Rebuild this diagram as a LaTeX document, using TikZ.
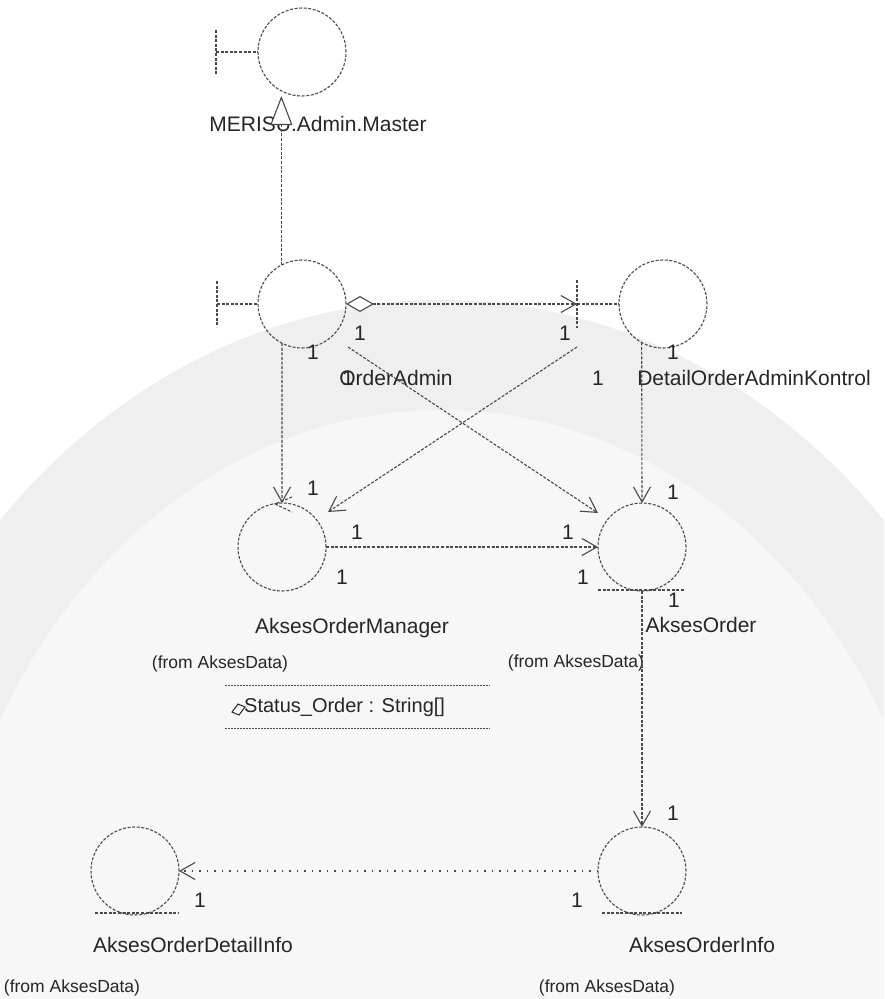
\documentclass[tikz,border=0pt]{standalone}
\usepackage{fontspec}
\setmainfont{Liberation Sans}
\usetikzlibrary{arrows.meta,calc}

\definecolor{ink}{HTML}{4A4A4A}
\definecolor{txt}{HTML}{262626}
\definecolor{wm}{HTML}{EFEFEF}
\definecolor{wmlight}{HTML}{F7F7F7}

\tikzset{
  icon/.style={circle, draw=ink, line width=1.1pt, dash pattern=on 3pt off 1.6pt,
    minimum size=88pt, inner sep=0pt, outer sep=0pt},
  link/.style={draw=ink, line width=1.1pt, dash pattern=on 3pt off 1.6pt},
  sparse/.style={draw=ink, line width=1.1pt, dash pattern=on 1.5pt off 6pt},
  barb/.tip={Straight Barb[length=15pt,width=17pt,line width=1.1pt]},
  nav/.style={link, -barb},
  deco/.style={draw=ink, line width=1.1pt, dash pattern=on 3pt off 1.6pt},
  lbl/.style={font=\fontsize{21}{24}\selectfont, text=txt, inner sep=0pt},
  pkg/.style={font=\fontsize{17.5}{20}\selectfont, text=txt, inner sep=0pt},
}

\begin{document}
\begin{tikzpicture}[x=1pt,y=-1pt]
\useasboundingbox (0,0) rectangle (884,999);

% faint background arch band
\begin{scope}
  \clip (0,0) rectangle (884,999);
  \fill[wmlight] (442,1000) ellipse [x radius=502, y radius=590];
  \fill[wm, even odd rule] (442,1000) ellipse [x radius=607, y radius=700]
                           (442,1000) ellipse [x radius=502, y radius=590];
\end{scope}

% class icons
\node[icon] (meris) at (302,52) {};
\node[icon] (oa)    at (302,304) {};
\node[icon] (doak)  at (663,304) {};
\node[icon] (aom)   at (282,547) {};
\node[icon] (ao)    at (642,547) {};
\node[icon] (aoi)   at (642,871) {};
\node[icon] (aodi)  at (135,871) {};

% boundary bars
\coordinate (merisbar) at (216,52);
\coordinate (oabar)    at (217,304);
\coordinate (doakbar)  at (577,304);
\draw[deco] (merisbar) -- (meris.west);
\draw[deco] ($(merisbar)+(0,-22)$) -- ($(merisbar)+(0,22)$);
\draw[deco] (oabar) -- (oa.west);
\draw[deco] ($(oabar)+(0,-23)$) -- ($(oabar)+(0,23)$);
\draw[deco] (doakbar) -- (doak.west);
\draw[deco] ($(doakbar)+(0,-24)$) -- ($(doakbar)+(0,24)$);

% control arrow on AksesOrderManager
\draw[deco] ($(aom.north)+(10,-6)$) -- ($(aom.north)+(-7,1)$) -- ($(aom.north)+(10,9)$);

% entity underlines
\draw[deco] ($(ao.south)+(-44,-1)$) -- ($(ao.south)+(43,-1)$);
\draw[deco] ($(aoi.south)+(-40,-2)$) -- ($(aoi.south)+(40,-2)$);
\draw[deco] ($(aodi.south)+(-40,-2)$) -- ($(aodi.south)+(44,-2)$);

% names
\node[lbl] (tmeris) at (318,124) {MERISU.Admin.Master};
\node[lbl] (toa)    at (396,378) {OrderAdmin};
\node[lbl] (tdoak)  at (754,378) {DetailOrderAdminKontrol};
\node[lbl] (taom)   at (352,628) {AksesOrderManager};
\node[lbl] (tao)    at (701,625) {AksesOrder};
\node[lbl] (taodi)  at (193,945) {AksesOrderDetailInfo};
\node[lbl] (taoi)   at (702,945) {AksesOrderInfo};

\node[pkg] (paom)  at (220,664) {(from AksesData)};
\node[pkg] (pao)   at (576,663) {(from AksesData)};
\node[pkg] (paodi) at (72,988)  {(from AksesData)};
\node[pkg] (paoi)  at (607,988) {(from AksesData)};

% attribute compartment
\draw[ink, line width=0.8pt, dash pattern=on 2pt off 1pt] (225,685) -- (490,685);
\draw[ink, line width=0.8pt, dash pattern=on 2pt off 1pt] (225,728) -- (490,728);
\draw[txt, line width=1pt] (232,712) -- (238,704) -- (245,707) -- (239,715) -- cycle;
\node[lbl, anchor=west, font=\fontsize{20}{24}\selectfont] (attr) at (244,707) {Status\_Order : String[]};

% generalization to the master boundary
\draw[link, -{Triangle[open, length=29pt, width=22pt, fill=white, line width=1.1pt]}]
  (oa.118) -- (oa.118 |- meris.south);

% aggregation OrderAdmin -> DetailOrderAdminKontrol
\draw[link, {Diamond[open, length=28pt, width=16pt, fill=white, line width=1.1pt]}-barb]
  (oa.east) -- (doakbar);

% navigable associations
\draw[nav] (oa.243) -- (aom.north);
\draw[nav] (doak.241.5) -- (ao.north);
\draw[nav] ([shift={(46,43)}]oa.center) -- ([shift={(-44,-34)}]ao.center);
\draw[nav] ([shift={(-86,43)}]doak.center) -- ([shift={(46,-35)}]aom.center);
\draw[nav] (aom.east) -- (ao.west);
\draw[nav] (ao.south) -- (aoi.north);
\draw[sparse, -barb] (aoi.west) -- (aodi.east);

% multiplicities
\node[lbl] (m1)  at (360,333) {1};
\node[lbl] (m2)  at (313,352) {1};
\node[lbl] (m3)  at (348,378) {1};
\node[lbl] (m4)  at (565,333) {1};
\node[lbl] (m5)  at (598,378) {1};
\node[lbl] (m6)  at (673,352) {1};
\node[lbl] (m7)  at (313,488) {1};
\node[lbl] (m8)  at (357,532) {1};
\node[lbl] (m9)  at (342,577) {1};
\node[lbl] (m10) at (568,532) {1};
\node[lbl] (m11) at (583,577) {1};
\node[lbl] (m12) at (673,492) {1};
\node[lbl] (m13) at (674,600) {1};
\node[lbl] (m14) at (673,813) {1};
\node[lbl] (m15) at (577,900) {1};
\node[lbl] (m16) at (200,900) {1};
\end{tikzpicture}
\end{document}
